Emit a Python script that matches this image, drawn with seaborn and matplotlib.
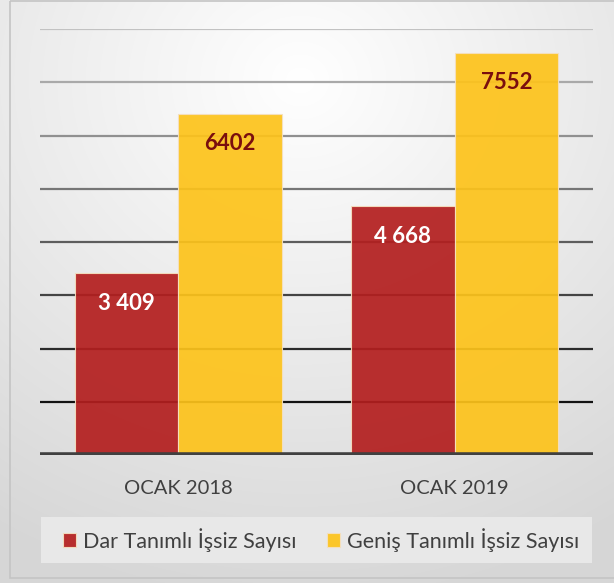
import numpy as np
import pandas as pd
import matplotlib
matplotlib.use("Agg")
import matplotlib.pyplot as plt
import seaborn as sns
from matplotlib.patches import Rectangle

categories = ["OCAK 2018", "OCAK 2019"]
series_names = ["Dar Tanımlı İşsiz Sayısı", "Geniş Tanımlı İşsiz Sayısı"]
dar_values = [3409, 4668]
genis_values = [6402, 7552]
dar_labels = ["3 409", "4 668"]
genis_labels = ["6402", "7552"]
grid_values = [1000, 2000, 3000, 4000, 5000, 6000, 7000, 8000]

sns.set_theme(style="white")
plt.rcParams['font.family'] = ['Lato', 'DejaVu Sans']

df = pd.DataFrame({
    "Kategori": categories * 2,
    "Seri": [series_names[0]] * 2 + [series_names[1]] * 2,
    "Deger": dar_values + genis_values,
})

W, H = 614, 583
fig = plt.figure(figsize=(W / 100, H / 100), dpi=100)

# background with soft radial gradient
bg = fig.add_axes([0, 0, 1, 1], zorder=-10)
yy, xx = np.mgrid[0:H, 0:W]
r = np.sqrt(((xx - 300) / 620.0) ** 2 + ((yy - 80) / 560.0) ** 2)
val = np.clip(1.0 - 0.17 * r, 0.84, 1.0)
img = np.dstack([val, val, val])
bg.imshow(img, extent=[0, W, H, 0], aspect="auto", interpolation="bilinear")
bg.set_xlim(0, W)
bg.set_ylim(H, 0)
bg.add_patch(Rectangle((9.5, 0.5), W + 5, 577.5, fill=False, edgecolor="#c4c4c4", lw=1.2))
# legend box background
bg.add_patch(Rectangle((41, 517), 551, 46, facecolor="#e8e8e8", edgecolor="none"))
bg.axis("off")

ax = fig.add_axes([40 / W, (H - 455) / H, 553 / W, 426 / H])
ax.patch.set_alpha(0)

# gridlines gradient from light grey (top) to near black (bottom)
n = len(grid_values)
for i, g in enumerate(grid_values):
    t = i / (n - 1)
    c = (1 - t) * np.array([0.07, 0.07, 0.07]) + t * np.array([0.76, 0.76, 0.76])
    ax.axhline(g, color=c, lw=1.6, zorder=1)

sns.barplot(data=df, x="Kategori", y="Deger", hue="Seri", order=categories,
            hue_order=series_names, palette=["#b31e1e", "#fdc31a"], saturation=1,
            width=0.75, gap=0, alpha=0.92, edgecolor="#f5e0c0", linewidth=0.8,
            ax=ax, zorder=2, legend=True)

ax.axhline(0, color="#404040", lw=4, zorder=3)
ax.set_xlim(-0.5, 1.5)
ax.set_ylim(0, 8000)
ax.set_yticks([])
ax.set_xlabel("")
ax.set_ylabel("")
for s in ax.spines.values():
    s.set_visible(False)
ax.tick_params(axis="x", length=0, pad=18, labelsize=14.5, labelcolor="#404040")

# value labels
conts = ax.containers
ax.bar_label(conts[0], labels=dar_labels, label_type="edge", padding=-29,
             color="white", fontsize=16, fontweight="bold")
ax.bar_label(conts[1], labels=genis_labels, label_type="edge", padding=-29,
             color="#7a0e0e", fontsize=16, fontweight="bold")

leg = ax.legend(loc="center", bbox_to_anchor=(321 / W, (H - 540) / H),
                bbox_transform=fig.transFigure, ncol=2, frameon=False,
                fontsize=15.5, handlelength=0.6, handleheight=0.6,
                handletextpad=0.35, columnspacing=1.4)
for t in leg.get_texts():
    t.set_color("#404040")

fig.savefig("out.png", dpi=100)
